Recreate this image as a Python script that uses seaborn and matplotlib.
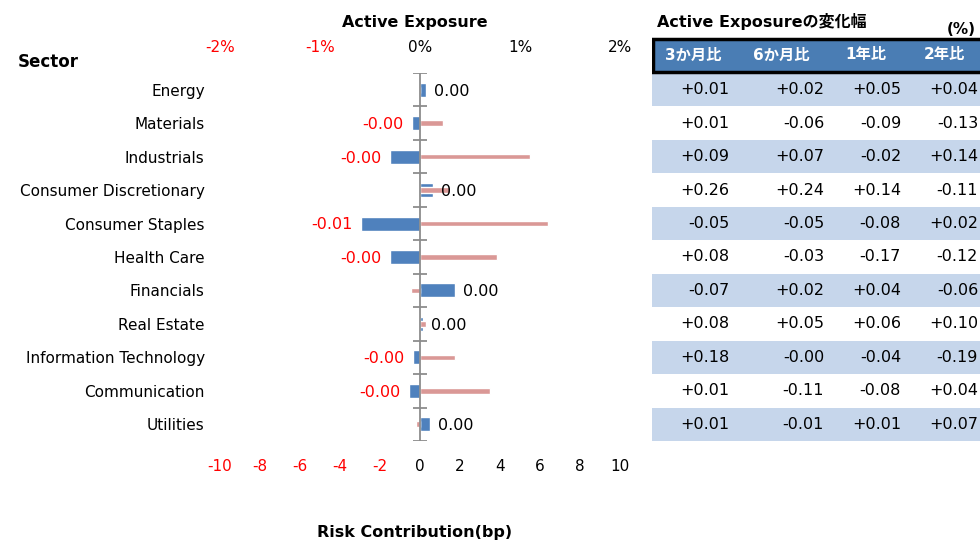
import numpy as np
import pandas as pd
import matplotlib.pyplot as plt
import seaborn as sns

# Chart data
sectors = ['Energy', 'Materials', 'Industrials', 'Consumer Discretionary', 'Consumer Staples',
           'Health Care', 'Financials', 'Real Estate', 'Information Technology',
           'Communication', 'Utilities']
active_exposure = [0.06, -0.08, -0.30, 0.13, -0.59, -0.30, 0.35, 0.03, -0.07, -0.11, 0.10]   # %
risk_contrib = [-0.07, 1.13, 5.5, 1.5, 6.4, 3.83, -0.45, 0.3, 1.77, 3.5, -0.2]            # bp

exp_ticks = [-2, -1, 0, 1, 2]
risk_ticks = [-10, -8, -6, -4, -2, 0, 2, 4, 6, 8, 10]

# change table
col_names = ['3か月比', '6か月比', '1年比', '2年比']
chg_3m = ['+0.01', '+0.01', '+0.09', '+0.26', '-0.05', '+0.08', '-0.07', '+0.08', '+0.18', '+0.01', '+0.01']
chg_6m = ['+0.02', '-0.06', '+0.07', '+0.24', '-0.05', '-0.03', '+0.02', '+0.05', '-0.00', '-0.11', '-0.01']
chg_1y = ['+0.05', '-0.09', '-0.02', '+0.14', '-0.08', '-0.17', '+0.04', '+0.06', '-0.04', '-0.08', '+0.01']
chg_2y = ['+0.04', '-0.13', '+0.14', '-0.11', '+0.02', '-0.12', '-0.06', '+0.10', '-0.19', '+0.04', '+0.07']

BLUE = '#4f81bd'
PINK = '#da9896'
HEAD = '#4a7db4'
BAND = '#c6d6eb'

sns.set_style('white')
plt.rcParams['font.family'] = ['DejaVu Sans', 'Noto Sans CJK JP']
plt.rcParams['text.color'] = 'black'
plt.rcParams['xtick.color'] = 'black'
plt.rcParams['ytick.color'] = 'black'

df = pd.DataFrame({'sector': sectors, 'exposure': active_exposure, 'risk': risk_contrib})
n = len(sectors)

W, H = 980, 542
fig = plt.figure(figsize=(W / 100, H / 100), dpi=100)

# main chart axes (pixel layout)
ax = fig.add_axes([220 / W, 1 - 441 / H, 400 / W, 368 / H])
sns.barplot(data=df, x='exposure', y='sector', orient='h', color=BLUE, width=0.42,
            saturation=1, ax=ax)

ax2 = ax.twiny()
sns.barplot(data=df, x='risk', y='sector', orient='h', color=PINK, width=0.17,
            saturation=1, ax=ax2)

# top axis: active exposure (%)
ax.set_xlim(-2, 2)
ax.xaxis.tick_top()
ax.set_xticks(exp_ticks)
ax.set_xticklabels([f'{t}%' for t in exp_ticks], fontsize=11)
ax.tick_params(axis='x', length=0, pad=13)
for lab, t in zip(ax.get_xticklabels(), exp_ticks):
    lab.set_color('red' if t < 0 else 'black')
ax.set_yticks(range(n))
ax.set_yticklabels(sectors, fontsize=11)
ax.tick_params(axis='y', length=0, pad=11)
ax.set_xlabel('')
ax.set_ylabel('')

# bottom axis: risk contribution (bp)
ax2.set_xlim(-10, 10)
ax2.xaxis.tick_bottom()
ax2.set_xticks(risk_ticks)
ax2.set_xticklabels([str(t) for t in risk_ticks], fontsize=11)
ax2.tick_params(axis='x', length=0, pad=13)
for lab, t in zip(ax2.get_xticklabels(), risk_ticks):
    lab.set_color('red' if t < 0 else 'black')
ax2.set_xlabel('')
ax2.set_ylabel('')

for a in (ax, ax2):
    for s in a.spines.values():
        s.set_visible(False)

# category axis at zero with boundary ticks
ax2.axvline(0, color='#8c8c8c', lw=1.3, zorder=1)
ax2.hlines(np.arange(-0.5, n), -0.35, 0.35, color='#8c8c8c', lw=1.3, zorder=1)

# value labels (exposure as fraction)
for i, v in enumerate(active_exposure):
    txt = f'{v / 100:.2f}'
    neg = v < 0
    ax2.annotate(txt, xy=(v, i), xycoords=ax.transData,
                 xytext=(-6 if neg else 6, -1), textcoords='offset points',
                 ha='right' if neg else 'left', va='center', fontsize=11.5,
                 color='red' if neg else 'black', zorder=5)

ax.set_ylim(n - 0.5, -0.5)

fig.text(415 / W, 1 - 22 / H, 'Active Exposure', ha='center', va='center',
         fontsize=11.5, fontweight='bold')
fig.text(415 / W, 1 - 533 / H, 'Risk Contribution(bp)', ha='center', va='center',
         fontsize=11.5, fontweight='bold')
fig.text(18 / W, 1 - 62 / H, 'Sector', ha='left', va='center', fontsize=12, fontweight='bold')

# table of changes
head_top = -0.5 - (73 - 37) / (368 / n)
axt = fig.add_axes([652 / W, 1 - 441 / H, (W - 652) / W, (441 - 37) / H])
axt.set_xlim(652, W)
axt.set_ylim(n - 0.5, head_top)
axt.axis('off')
for i in range(0, n, 2):
    axt.axhspan(i - 0.5, i + 0.5, color=BAND, lw=0)
axt.add_patch(plt.Rectangle((653, -0.53), 400, head_top + 0.53 + 0.05, facecolor=HEAD,
                            edgecolor='black', lw=2.5))
head_x = [693, 781, 866, 944]
for x, name in zip(head_x, col_names):
    axt.text(x, (head_top - 0.5) / 2, name, ha='center', va='center', color='white',
             fontsize=11, fontweight='bold')
val_x = [729, 824, 901, 978]
for x, col in zip(val_x, [chg_3m, chg_6m, chg_1y, chg_2y]):
    for i, s in enumerate(col):
        axt.text(x, i, s, ha='right', va='center', fontsize=11.5)

fig.text(657 / W, 1 - 22 / H, 'Active Exposureの変化幅', ha='left', va='center',
         fontsize=11.5, fontweight='bold')
fig.text(976 / W, 1 - 29 / H, '(%)', ha='right', va='center', fontsize=11, fontweight='bold')

fig.savefig('out.png', dpi=100)
